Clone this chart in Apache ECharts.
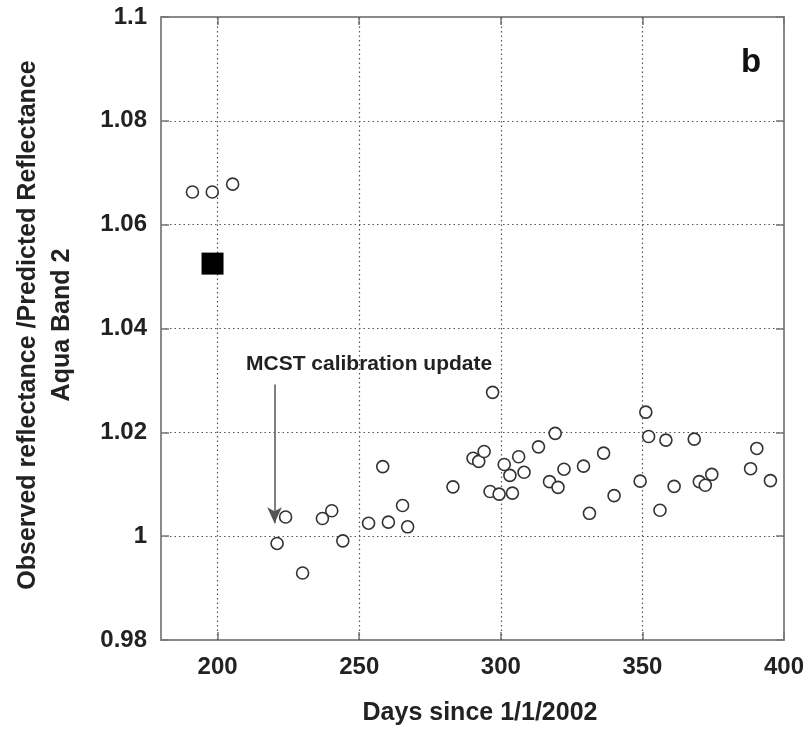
<!DOCTYPE html>
<html><head><meta charset="utf-8">
<script src="https://cdn.jsdelivr.net/npm/echarts@6/dist/echarts.min.js"></script>
<style>html,body{margin:0;padding:0;background:#fff}#c{width:810px;height:731px}</style>
</head><body><div id="c"></div>
<script>
// Days since 1/1/2002
const days = [191.1,198.1,205.3,224.0,221.0,230.0,237.0,240.3,244.2,253.3,258.3,260.3,265.3,267.1,283.1,
  297.1,290.2,292.2,294.1,296.2,299.4,301.2,303.2,304.1,306.3,308.2,313.3,317.2,319.2,320.2,322.3,329.2,331.3,
  336.3,340.0,349.2,351.2,352.2,356.2,358.3,361.2,368.3,370.1,372.2,374.5,388.2,390.4,395.2];
const ratio = [1.0663,1.0663,1.0678,1.0037,0.9986,0.9929,1.0034,1.0049,0.9991,1.0025,1.0134,1.0027,1.0059,1.0018,1.0095,
  1.0277,1.0150,1.0144,1.0163,1.0086,1.0081,1.0138,1.0117,1.0083,1.0153,1.0123,1.0172,1.0105,1.0198,1.0094,1.0129,1.0135,1.0044,
  1.0160,1.0078,1.0106,1.0239,1.0192,1.0050,1.0185,1.0096,1.0187,1.0105,1.0098,1.0119,1.0130,1.0169,1.0107];
const squareDay = [198.2];
const squareRatio = [1.0525];
const xTicks = [200,250,300,350,400];
const yTicks = [0.98,1.00,1.02,1.04,1.06,1.08,1.10];
const arrowDay = 220.1, arrowFrom = 1.0292, arrowTo = 1.0025;
const annotation = 'MCST calibration update';
const panelLabel = 'b';
const xTitle = 'Days since 1/1/2002';
const yTitle1 = 'Observed reflectance /Predicted Reflectance';
const yTitle2 = 'Aqua Band 2';

const FONT = '"Liberation Sans", Arial, Helvetica, sans-serif';
const chart = echarts.init(document.getElementById('c'));
const gridStyle = {color:'#555', type:[1.5,3], width:1.2};
const axisLineStyle = {color:'#8a8a8a', width:2};
const tickStyle = {color:'#777', width:1.5};
chart.setOption({
  animation:false,
  backgroundColor:'#fff',
  grid:{left:161, top:17, right:26, bottom:91},
  xAxis:[{
    type:'value', min:180, max:400, position:'bottom',
    axisLine:{show:true, lineStyle:axisLineStyle},
    axisTick:{show:true, inside:true, length:8, customValues:xTicks, lineStyle:tickStyle},
    axisLabel:{customValues:xTicks, margin:15, fontFamily:FONT, fontWeight:'bold', fontSize:24, color:'#222'},
    splitLine:{show:false}
  },{
    type:'value', min:180, max:400, position:'top',
    axisLine:{show:true, lineStyle:axisLineStyle},
    axisTick:{show:true, inside:true, length:8, customValues:xTicks, lineStyle:tickStyle},
    axisLabel:{show:false}, splitLine:{show:false}
  }],
  yAxis:[{
    type:'value', min:0.98, max:1.1, interval:0.02, position:'left',
    axisLine:{show:true, lineStyle:axisLineStyle},
    axisTick:{show:true, inside:true, length:8, lineStyle:tickStyle},
    axisLabel:{margin:14, fontFamily:FONT, fontWeight:'bold', fontSize:24, color:'#222',
      formatter:v=>String(+v.toFixed(2))},
    splitLine:{show:true, lineStyle:gridStyle}
  },{
    type:'value', min:0.98, max:1.1, interval:0.02, position:'right',
    axisLine:{show:true, lineStyle:axisLineStyle},
    axisTick:{show:true, inside:true, length:8, lineStyle:tickStyle},
    axisLabel:{show:false}, splitLine:{show:false}
  }],
  graphic:[
    {type:'text', left:741, top:46, style:{text:panelLabel, font:'bold 33px '+FONT, fill:'#111'}},
    {type:'text', left:246, top:354, style:{text:annotation, font:'bold 21px '+FONT, fill:'#222'}},
    {type:'text', x:480, y:713, style:{text:xTitle, font:'bold 25px '+FONT, fill:'#222', align:'center', verticalAlign:'middle'}},
    {type:'text', x:28, y:325, rotation:Math.PI/2, style:{text:yTitle1, font:'bold 25px '+FONT, fill:'#222', align:'center', verticalAlign:'middle'}},
    {type:'text', x:62, y:325, rotation:Math.PI/2, style:{text:yTitle2, font:'bold 25px '+FONT, fill:'#222', align:'center', verticalAlign:'middle'}}
  ],
  series:[{
    type:'line', data:[], z:1,
    markLine:{
      silent:true, symbol:['none','none'], label:{show:false},
      lineStyle:gridStyle,
      data: xTicks.filter(v=>v<400).map(v=>({xAxis:v}))
    }
  },{
    type:'scatter', symbol:'circle', symbolSize:12,
    itemStyle:{color:'#fff', borderColor:'#333', borderWidth:1.6, opacity:1},
    data: days.map((d,i)=>[d, ratio[i]]),
    z:5
  },{
    type:'scatter', symbol:'rect', symbolSize:22,
    itemStyle:{color:'#000', opacity:1},
    data: squareDay.map((d,i)=>[d, squareRatio[i]]), z:6
  },{
    type:'line', data:[], z:4,
    markLine:{
      silent:true, label:{show:false}, symbol:['none','arrow'], symbolSize:[11,16],
      lineStyle:{color:'#555', width:1.5, type:'solid'},
      data:[[{coord:[arrowDay, arrowFrom]},{coord:[arrowDay, arrowTo]}]]
    }
  }]
});
</script></body></html>
